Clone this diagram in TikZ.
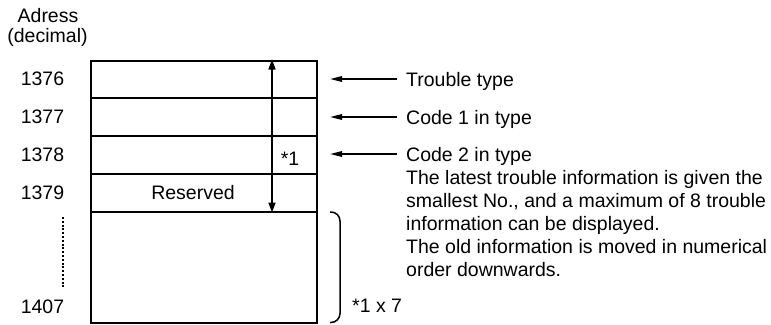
\documentclass[tikz,border=0pt]{standalone}
\usepackage{fontspec}
\setmainfont{Liberation Sans}
\usetikzlibrary{arrows.meta}
\tikzset{
  txt/.style={inner sep=0pt, font=\fontsize{19.5}{23}\selectfont},
  cell/.style={draw, line width=2pt, minimum width=226pt, inner sep=0pt},
  larrow/.style={line width=1.5pt, -{Triangle[length=12pt,width=5.5pt]}},
  darrow/.style={line width=1.6pt, {Triangle[length=10pt,width=7pt]}-{Triangle[length=10pt,width=7pt]}},
  brace/.style={line width=1.5pt, rounded corners=9pt},
  dotline/.style={line width=2.2pt, dash pattern=on 2pt off 1.8pt}
}
\begin{document}
\begin{tikzpicture}[x=1pt,y=-1pt]
\useasboundingbox (0,0) rectangle (771,324);
% header
\node[txt, anchor=base] (h1) at (48,22) {Adress};
\node[txt, anchor=base] (h2) at (47.5,42) {(decimal)};
% addresses
\node[txt, anchor=base] (a1) at (42.5,85) {1376};
\node[txt, anchor=base] (a2) at (42.5,123) {1377};
\node[txt, anchor=base] (a3) at (42.5,161) {1378};
\node[txt, anchor=base] (a4) at (42.5,199) {1379};
\node[txt, anchor=base] (a5) at (42.5,313) {1407};
\coordinate (d1) at (63,217);
\coordinate (d2) at (63,288);
\draw[dotline] (d1) -- (d2);
% table
\node[cell, minimum height=37pt] (r1) at (204,79) {};
\node[cell, minimum height=38pt] (r2) at (204,116.5) {};
\node[cell, minimum height=38pt] (r3) at (204,154.5) {};
\node[cell, minimum height=38pt] (r4) at (204,192.5) {};
\node[cell, minimum height=111pt] (r5) at (204,267) {};
\node[txt, anchor=base] (res) at (193,199) {Reserved};
\coordinate (dx) at (272,0);
\draw[darrow] (r1.north -| dx) -- (r4.south -| dx);
\node[txt, anchor=base] (s1) at (290,165) {*1};
% right annotations
\coordinate (p1s) at (397,79);
\coordinate (p1e) at (330,79);
\coordinate (p2s) at (397,117);
\coordinate (p2e) at (330,117);
\coordinate (p3s) at (397,154);
\coordinate (p3e) at (330,154);
\draw[larrow] (p1s) -- (p1e);
\draw[larrow] (p2s) -- (p2e);
\draw[larrow] (p3s) -- (p3e);
\node[txt, anchor=base west] (t1) at (406,86) {Trouble type};
\node[txt, anchor=base west] (t2) at (406,124) {Code 1 in type};
\node[txt, anchor=base west] (t3) at (406,161) {Code 2 in type};
\node[txt, anchor=north west, align=left] (para) at (406,170.5) {The latest trouble information is given the\\smallest No., and a maximum of 8 trouble\\information can be displayed.\\The old information is moved in numerical\\order downwards.};
% brace
\coordinate (b1) at (330,212);
\coordinate (b2) at (340,212);
\coordinate (b3) at (340,322.5);
\coordinate (b4) at (330,322.5);
\draw[brace] (b1) -- (b2) -- (b3) -- (b4);
\node[txt, anchor=base west] (x7) at (352,312) {*1 x 7};
\end{tikzpicture}
\end{document}
